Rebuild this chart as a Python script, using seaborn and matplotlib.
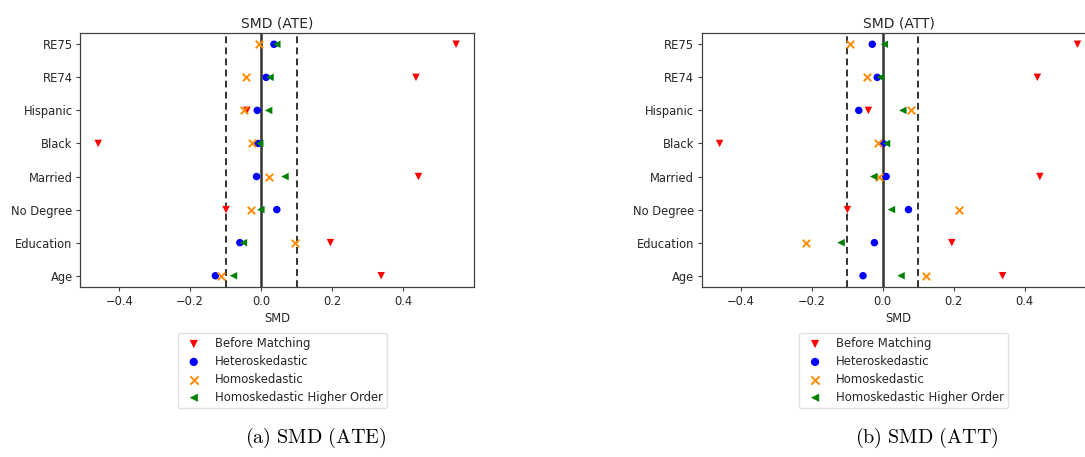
import numpy as np
import pandas as pd
import matplotlib
matplotlib.use("Agg")
import matplotlib.pyplot as plt
import seaborn as sns

# ---- data ----
covariates = ["Age", "Education", "No Degree", "Married", "Black", "Hispanic", "RE74", "RE75"]
series_names = ["Before Matching", "Heteroskedastic", "Homoskedastic", "Homoskedastic Higher Order"]

before_matching = [0.338, 0.195, -0.099, 0.443, -0.459, -0.040, 0.436, 0.549]

ate_hetero = [-0.129, -0.060, 0.044, -0.013, -0.009, -0.011, 0.014, 0.036]
ate_homo = [-0.114, 0.095, -0.029, 0.023, -0.026, -0.047, -0.043, -0.006]
ate_homo_ho = [-0.078, -0.050, -0.001, 0.067, -0.004, 0.021, 0.025, 0.044]

att_hetero = [-0.055, -0.023, 0.073, 0.010, 0.001, -0.067, -0.015, -0.029]
att_homo = [0.123, -0.215, 0.215, -0.010, -0.014, 0.080, -0.043, -0.093]
att_homo_ho = [0.052, -0.117, 0.025, -0.025, 0.011, 0.057, -0.006, 0.005]

titles = ["SMD (ATE)", "SMD (ATT)"]
captions = ["(a) SMD (ATE)", "(b) SMD (ATT)"]

# ---- styling ----
sns.set_style("ticks")
plt.rcParams.update({
    "font.family": ["DejaVu Sans"],
    "mathtext.fontset": "cm",
    "xtick.major.size": 3,
    "ytick.major.size": 3,
    "xtick.major.width": 0.8,
    "ytick.major.width": 0.8,
    "axes.linewidth": 0.9,
    "axes.edgecolor": "0.25",
    "xtick.color": "0.25",
    "ytick.color": "0.25",
    "text.color": "0.15",
    "xtick.labelcolor": "0.15",
    "ytick.labelcolor": "0.15",
})

colors = ["red", "blue", "darkorange", "green"]
markers = ["v", "o", "x", "<"]

W, H = 1085, 457
fig = plt.figure(figsize=(W / 100, H / 100), dpi=100)

ax_rects = [
    [80.3 / W, (H - 287.3) / H, 393.7 / W, 254.6 / H],
    [701.7 / W, (H - 287.3) / H, 393.7 / W, 254.6 / H],
]
legend_anchor_px = [(178, 333), (799.3, 333)]
caption_center_px = [(316, 438), (927, 438)]

panels = [
    [before_matching, ate_hetero, ate_homo, ate_homo_ho],
    [before_matching, att_hetero, att_homo, att_homo_ho],
]

for i, vals in enumerate(panels):
    ax = fig.add_axes(ax_rects[i])
    for name, v, c, m in zip(series_names, vals, colors, markers):
        df = pd.DataFrame({"SMD": v, "Covariate": covariates})
        if m == "x":
            sns.scatterplot(data=df, x="SMD", y="Covariate", ax=ax, color=c,
                            marker=m, s=29, linewidth=1.4, label=name, zorder=3)
        else:
            sns.scatterplot(data=df, x="SMD", y="Covariate", ax=ax, color=c,
                            marker=m, s=29, edgecolor="none", linewidth=0,
                            label=name, zorder=3)
    if ax.yaxis_inverted():
        ax.invert_yaxis()
    ax.axvline(0, color="0.2", lw=1.8, zorder=2)
    ax.axvline(-0.1, color="0.2", lw=1.4, ls="--", dashes=(3.5, 2.2), zorder=2)
    ax.axvline(0.1, color="0.2", lw=1.4, ls="--", dashes=(3.5, 2.2), zorder=2)
    ax.set_title(titles[i], fontsize=10, pad=4)
    ax.set_xlabel("SMD", fontsize=8.3, labelpad=3)
    ax.set_ylabel("")
    ax.set_xticks([-0.4, -0.2, 0.0, 0.2, 0.4])
    ax.tick_params(labelsize=8.3, pad=2.5)
    lx, ly = legend_anchor_px[i]
    ax.legend(loc="upper left", bbox_to_anchor=(lx / W, 1 - ly / H),
              bbox_transform=fig.transFigure, fontsize=8.4, frameon=True,
              borderaxespad=0, handletextpad=0.8, labelspacing=0.42,
              borderpad=0.35, framealpha=0.8, edgecolor="0.85",
              markerscale=1.1)
    cx, cy = caption_center_px[i]
    fig.text(cx / W, 1 - cy / H, r"$\mathrm{" + captions[i].replace(" ", r"\ ") + "}$",
             ha="center", va="center", fontsize=14.5, color="black")

fig.savefig("out.png", dpi=100)
